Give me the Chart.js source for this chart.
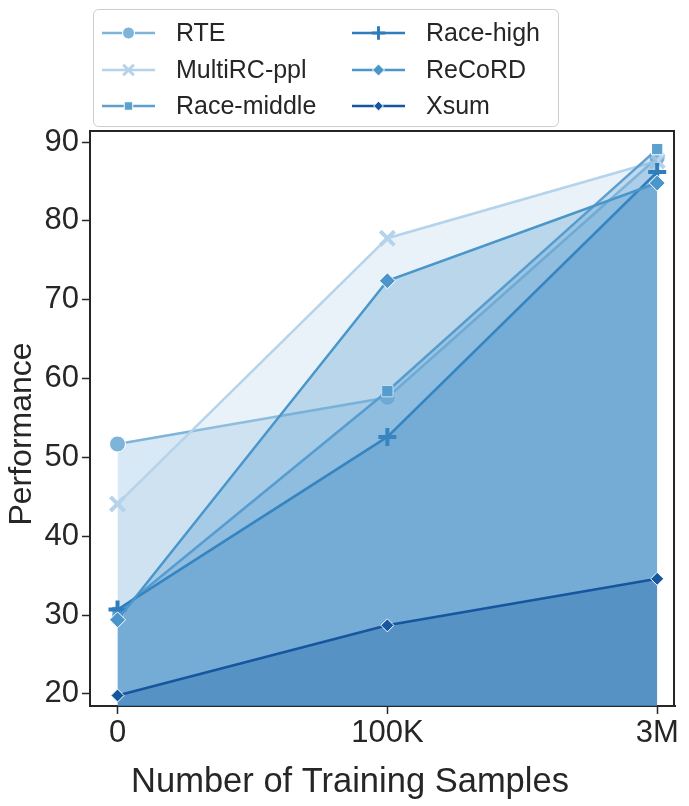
<!DOCTYPE html>
<html>
<head>
<meta charset="utf-8">
<script src="https://cdn.jsdelivr.net/npm/chart.js@4.4.0/dist/chart.umd.min.js"></script>
<style>
  html, body { margin: 0; padding: 0; background: #fff; }
  #wrap { width: 689px; height: 806px; position: relative; }
</style>
</head>
<body>
<div id="wrap"><canvas id="myChart"></canvas></div>
<script>
// values
const categories = ['0', '100K', '3M'];
const seriesNames = ['RTE', 'MultiRC-ppl', 'Race-middle', 'Race-high', 'ReCoRD', 'Xsum'];
const rte = [51.7, 57.6, 88.0];
const multircPpl = [44.1, 77.8, 87.6];
const raceMiddle = [30.4, 58.4, 89.1];
const raceHigh = [30.7, 52.6, 86.2];
const record = [29.4, 72.4, 84.8];
const xsum = [19.8, 28.7, 34.6];
const yTicks = [20, 30, 40, 50, 60, 70, 80, 90];
const xTitle = 'Number of Training Samples';
const yTitle = 'Performance';

const colors = ['#7fb4da', '#b5d3ea', '#5da0d0', '#2f7dbc', '#4a96cb', '#15569f'];
const markers = ['circle', 'crossRot', 'rect', 'cross', 'rectRot', 'rectRot'];
const markerSizes = [8, 10, 8, 9, 8, 6.5];
const seriesValues = [rte, multircPpl, raceMiddle, raceHigh, record, xsum];

const spine = '#262626';
const textColor = '#262626';
const fontFamily = '"Liberation Sans", Arial, Helvetica, sans-serif';

function withAlpha(hex, a) {
    const r = parseInt(hex.slice(1, 3), 16);
    const g = parseInt(hex.slice(3, 5), 16);
    const b = parseInt(hex.slice(5, 7), 16);
    return 'rgba(' + r + ',' + g + ',' + b + ',' + a + ')';
}

function isLineMarker(i) {
    return markers[i] === 'cross' || markers[i] === 'crossRot';
}

const datasets = [];
for (let i = 0; i < seriesNames.length; i++) {
    datasets.push({
        label: seriesNames[i],
        data: seriesValues[i].map((v, j) => ({x: j, y: v})),
        borderColor: colors[i],
        backgroundColor: withAlpha(colors[i], 0.3),
        borderWidth: 2.5,
        fill: 'start',
        tension: 0,
        pointStyle: markers[i],
        pointRadius: markerSizes[i],
        pointHoverRadius: markerSizes[i],
        pointBackgroundColor: colors[i],
        pointBorderColor: isLineMarker(i) ? colors[i] : '#ffffff',
        pointBorderWidth: isLineMarker(i) ? 4 : 1,
        order: seriesNames.length - i
    });
}

// legend in two columns, drawn on the canvas
const legendBox = {
    id: 'legendBox',
    afterDraw(chart) {
        const ctx = chart.ctx;
        ctx.save();
        ctx.beginPath();
        ctx.roundRect(93.5, 9.5, 465, 117, 5);
        ctx.fillStyle = 'rgba(255,255,255,0.8)';
        ctx.fill();
        ctx.strokeStyle = '#cccccc';
        ctx.lineWidth = 1;
        ctx.stroke();
        const rows = [33, 70, 106];
        const cols = [102, 352];
        ctx.font = '25px ' + fontFamily;
        ctx.textBaseline = 'middle';
        ctx.textAlign = 'left';
        for (let i = 0; i < seriesNames.length; i++) {
            const x0 = cols[Math.floor(i / 3)];
            const y0 = rows[i % 3];
            ctx.strokeStyle = colors[i];
            ctx.lineWidth = 2.5;
            ctx.beginPath();
            ctx.moveTo(x0, y0);
            ctx.lineTo(x0 + 53, y0);
            ctx.stroke();
            ctx.fillStyle = colors[i];
            ctx.strokeStyle = isLineMarker(i) ? colors[i] : '#ffffff';
            ctx.lineWidth = isLineMarker(i) ? 3 : 1;
            Chart.helpers.drawPoint(ctx, {
                pointStyle: markers[i],
                radius: markerSizes[i] * 0.75,
                borderWidth: ctx.lineWidth,
                rotation: 0
            }, x0 + 26.5, y0);
            ctx.fillStyle = textColor;
            ctx.fillText(seriesNames[i], x0 + 74, y0 + 1);
        }
        ctx.restore();
    }
};

// top and right spines + axis titles
const frameAndTitles = {
    id: 'frameAndTitles',
    afterDraw(chart) {
        const a = chart.chartArea;
        const ctx = chart.ctx;
        ctx.save();
        ctx.strokeStyle = spine;
        ctx.lineWidth = 2;
        ctx.beginPath();
        ctx.moveTo(a.left - 1, a.top);
        ctx.lineTo(a.right - 1, a.top);
        ctx.lineTo(a.right - 1, a.bottom);
        ctx.stroke();
        ctx.fillStyle = textColor;
        ctx.textAlign = 'center';
        ctx.textBaseline = 'middle';
        ctx.font = '34.5px ' + fontFamily;
        ctx.fillText(xTitle, 350, 782);
        ctx.translate(22, 434);
        ctx.rotate(-Math.PI / 2);
        ctx.font = '32px ' + fontFamily;
        ctx.fillText(yTitle, 0, 0);
        ctx.restore();
    }
};

const config = {
    type: 'line',
    data: { datasets: datasets },
    options: {
        responsive: false,
        animation: false,
        devicePixelRatio: 1,
        layout: { padding: { top: 131, right: 0, bottom: 0, left: 0 } },
        plugins: {
            legend: { display: false },
            tooltip: { enabled: false }
        },
        scales: {
            x: {
                type: 'linear',
                min: -0.102,
                max: 2.066,
                afterBuildTicks: (scale) => {
                    scale.ticks = categories.map((c, i) => ({value: i}));
                },
                afterFit: (scale) => { scale.height = 100; },
                ticks: {
                    callback: (v) => categories[v],
                    color: textColor,
                    font: { family: fontFamily, size: 31 },
                    padding: 1,
                    maxRotation: 0
                },
                grid: {
                    drawOnChartArea: false,
                    drawTicks: true,
                    tickLength: 8,
                    tickColor: spine,
                    tickWidth: 1.5
                },
                border: { display: true, color: spine, width: 2 }
            },
            y: {
                type: 'linear',
                min: 18.47,
                max: 91.4,
                afterBuildTicks: (scale) => {
                    scale.ticks = yTicks.map(v => ({value: v}));
                },
                afterFit: (scale) => { scale.width = 90; },
                ticks: {
                    color: textColor,
                    font: { family: fontFamily, size: 31 },
                    padding: 3
                },
                grid: {
                    drawOnChartArea: false,
                    drawTicks: true,
                    tickLength: 8,
                    tickColor: spine,
                    tickWidth: 1.5
                },
                border: { display: true, color: spine, width: 2 }
            }
        }
    },
    plugins: [legendBox, frameAndTitles]
};

const canvas = document.getElementById('myChart');
canvas.width = 689;
canvas.height = 806;
let myChart = new Chart(canvas, config);
</script>
</body>
</html>
